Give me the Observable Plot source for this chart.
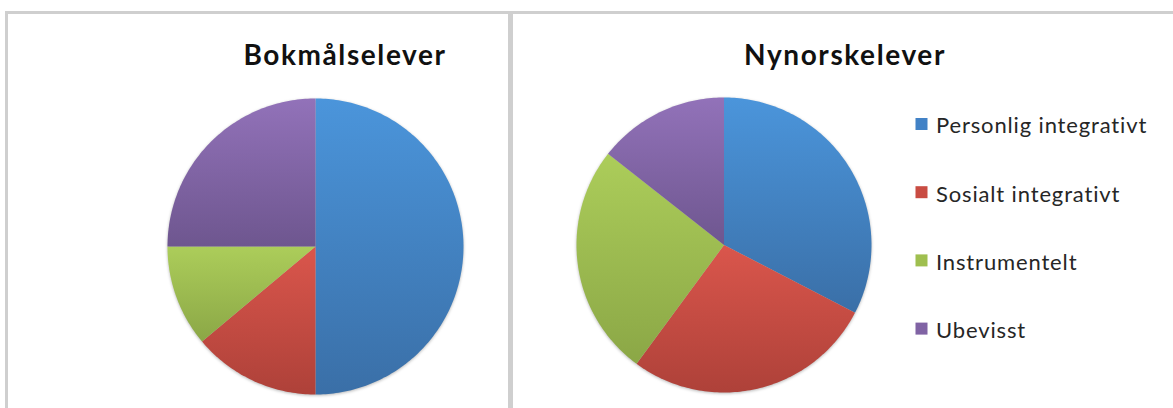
<!DOCTYPE html>
<html>
<head>
<meta charset="utf-8">
<script src="https://cdn.jsdelivr.net/npm/d3@7"></script>
<script src="https://cdn.jsdelivr.net/npm/@observablehq/plot@0.6"></script>
<style>
  html, body { margin: 0; padding: 0; background: #fff; }
  body { width: 1173px; height: 408px; overflow: hidden; position: relative; font-family: Lato, "Open Sans", sans-serif; }
  .panel { position: absolute; box-sizing: border-box; border: 3px solid #cfcfcf; border-bottom: none; }
  .pie { position: absolute; }
  .pie svg { filter: drop-shadow(0px 1px 1.5px rgba(0,0,0,0.28)); overflow: visible; }
  #overlay { position: absolute; left: 0; top: 0; }
</style>
</head>
<body>
<svg width="0" height="0" style="position:absolute">
  <defs id="grads"></defs>
</svg>
<div class="panel" style="left:5px; top:11px; width:506px; height:420px;"></div>
<div class="panel" style="left:510px; top:11px; width:700px; height:420px;"></div>
<div class="pie" id="pieLeft"></div>
<div class="pie" id="pieRight"></div>
<svg id="overlay" width="1173" height="408"></svg>
<script>
// ---- data ----
const categories = ["Personlig integrativt", "Sosialt integrativt", "Instrumentelt", "Ubevisst"];
const bokmalValues = [50, 13.9, 11.1, 25];
const nynorskValues = [32.6, 27.5, 25.5, 14.4];
const titles = ["Bokmålselever", "Nynorskelever"];

// ---- styles ----
const gradTop = ["#4b95db", "#da564c", "#accd5a", "#9272b9"];
const gradBottom = ["#3a6fa7", "#ae4139", "#8ba746", "#6e568f"];
const swatch = ["#4282c6", "#c94c42", "#9fbf4f", "#8063a4"];

const defs = d3.select("#grads");
categories.forEach((c, i) => {
  const g = defs.append("linearGradient").attr("id", "g" + i)
    .attr("x1", 0).attr("y1", 0).attr("x2", 0).attr("y2", 1);
  g.append("stop").attr("offset", "0%").attr("stop-color", gradTop[i]);
  g.append("stop").attr("offset", "100%").attr("stop-color", gradBottom[i]);
});
const gradUrls = categories.map((c, i) => `url(#g${i})`);

function slicePoints(values) {
  const arcs = d3.pie().sort(null).startAngle(0).endAngle(2 * Math.PI)(values);
  const pts = [];
  arcs.forEach((a, i) => {
    const cat = categories[i];
    pts.push({cat, x: 0, y: 0});
    const n = Math.max(2, Math.ceil((a.endAngle - a.startAngle) / (Math.PI / 180)));
    for (let k = 0; k <= n; k++) {
      const t = a.startAngle + (a.endAngle - a.startAngle) * k / n;
      pts.push({cat, x: Math.sin(t), y: Math.cos(t)});
    }
  });
  return pts;
}

function pie(values, r) {
  const m = 4;
  const size = 2 * r + 2 * m;
  return Plot.plot({
    width: size, height: size,
    margin: m,
    x: {domain: [-1, 1], axis: null},
    y: {domain: [-1, 1], axis: null},
    color: {domain: categories, range: gradUrls},
    marks: [
      Plot.line(slicePoints(values), {x: "x", y: "y", z: "cat", fill: "cat", stroke: "none", curve: "linear-closed"})
    ]
  });
}

function place(id, values, cx, cy, r) {
  const el = document.getElementById(id);
  el.appendChild(pie(values, r));
  el.style.left = (cx - r - 4) + "px";
  el.style.top = (cy - r - 4) + "px";
}
place("pieLeft", bokmalValues, 314.5, 245.7, 148);
place("pieRight", nynorskValues, 723.8, 244.5, 147.5);

// ---- titles & legend ----
const ov = d3.select("#overlay");
[[345, titles[0]], [845, titles[1]]].forEach(([x, t]) => {
  ov.append("text").attr("x", x).attr("y", 65).attr("text-anchor", "middle")
    .attr("font-family", "Lato, 'Open Sans', sans-serif").attr("font-weight", "bold")
    .attr("font-size", 28).attr("letter-spacing", 1.6).attr("fill", "#111").text(t);
});
categories.forEach((c, i) => {
  const cy = 124 + i * 68.2;
  ov.append("rect").attr("x", 915.5).attr("y", cy - 6).attr("width", 12).attr("height", 12).attr("fill", swatch[i]);
  ov.append("text").attr("x", 936).attr("y", cy + 9.3)
    .attr("font-family", "Lato, 'Open Sans', sans-serif")
    .attr("font-size", 22).attr("letter-spacing", 0.85).attr("fill", "#262626").text(c);
});
</script>
</body>
</html>
